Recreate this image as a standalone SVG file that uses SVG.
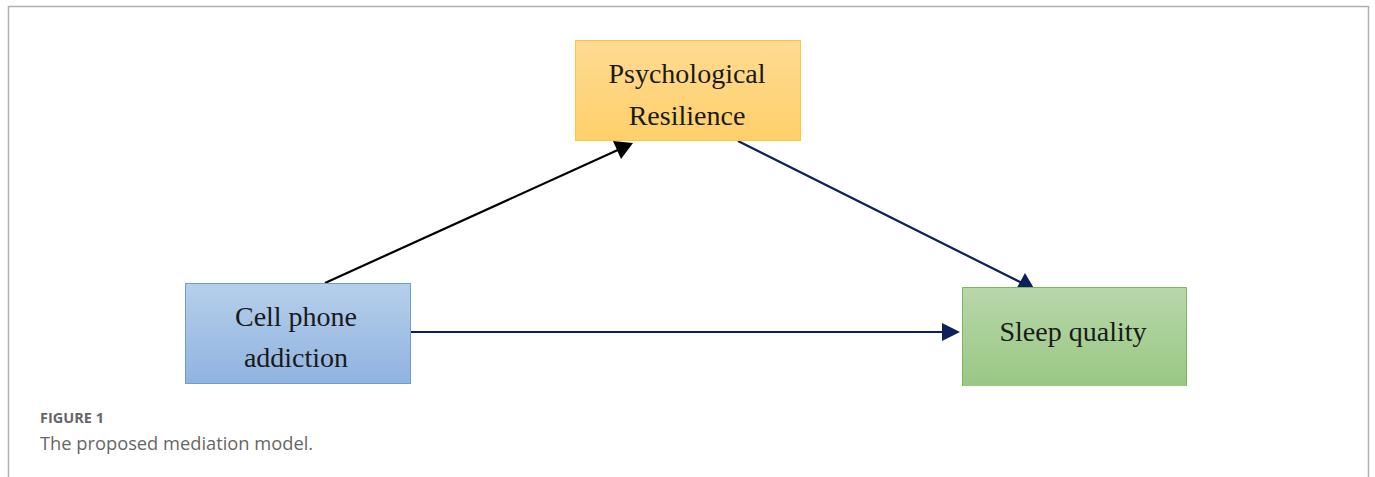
<svg xmlns="http://www.w3.org/2000/svg" width="1375" height="477" viewBox="0 0 1375 477">
<style>
.lbl{font-family:"Liberation Serif","Times New Roman",serif;font-size:28px;fill:#1a1a1a;text-anchor:middle}
.frame{fill:none;stroke:#b0b0b0;stroke-width:1.5}
.edge{fill:none;stroke-width:2.2}
</style>
<defs>
<linearGradient id="gO" x1="0" y1="0" x2="0" y2="1"><stop offset="0" stop-color="#fedb92"/><stop offset="1" stop-color="#ffcf6a"/></linearGradient>
<linearGradient id="gB" x1="0" y1="0" x2="0" y2="1"><stop offset="0" stop-color="#b6cfeb"/><stop offset="1" stop-color="#90b3e0"/></linearGradient>
<linearGradient id="gG" x1="0" y1="0" x2="0" y2="1"><stop offset="0" stop-color="#b8d8aa"/><stop offset="1" stop-color="#99c784"/></linearGradient>
</defs>
<rect width="1375" height="477" fill="#fff"/>
<path class="frame" d="M8.5,477 V6.5 H1368.5 V477"/>
<g id="connectors">
<line class="edge" x1="325" y1="283" x2="620" y2="149" stroke="#000"/>
<path d="M633,143 L613,141 L621,159 z" fill="#000"/>
<line class="edge" x1="738" y1="141" x2="1022" y2="283" stroke="#0d1f5c"/>
<path d="M1035,290 L1015,291 L1025,273 z" fill="#0d1f5c"/>
<line class="edge" x1="410" y1="332" x2="945" y2="332" stroke="#0d1f5c"/>
<path d="M960,332 L942,323 L942,341 z" fill="#0d1f5c"/>
</g>
<g id="node-resilience">
<rect x="575.5" y="40.5" width="225" height="100" fill="url(#gO)" stroke="#ffc63a" stroke-width="1"/>
<text class="lbl" x="687" y="83">Psychological</text>
<text class="lbl" x="687" y="125">Resilience</text>
</g>
<g id="node-phone">
<rect x="185.5" y="283.5" width="225" height="100" fill="url(#gB)" stroke="#6d9cd6" stroke-width="1"/>
<text class="lbl" x="296" y="326">Cell phone</text>
<text class="lbl" x="296" y="367">addiction</text>
</g>
<g id="node-sleep">
<path d="M962.5,386 V287.5 H1186.5 V386" fill="url(#gG)" stroke="#7cb65f" stroke-width="1"/>
<text class="lbl" x="1073" y="341">Sleep quality</text>
</g>
<text x="40" y="423" font-family="'Open Sans',sans-serif" font-size="14.5" font-weight="bold" fill="#666">FIGURE 1</text>
<text x="40" y="450" font-family="'Open Sans',sans-serif" font-size="18.3" fill="#666">The proposed mediation model.</text>
</svg>
